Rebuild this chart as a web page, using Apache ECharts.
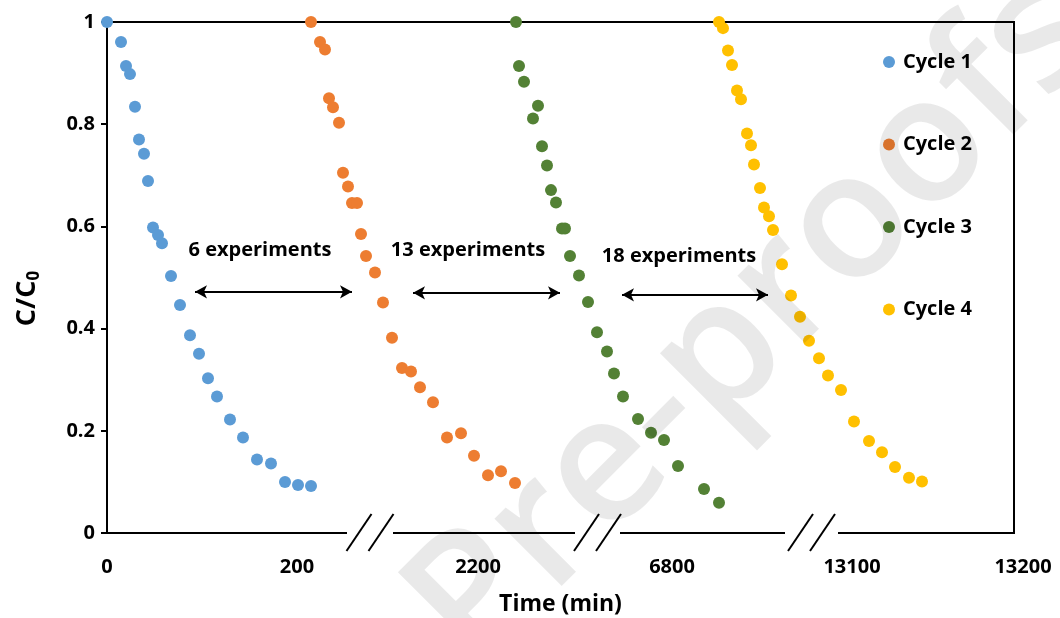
<!DOCTYPE html>
<html>
<head>
<meta charset="utf-8">
<script src="https://cdn.jsdelivr.net/npm/echarts@6/dist/echarts.min.js"></script>
<style>
html,body{margin:0;padding:0;background:#fff;}
#chart{width:1060px;height:618px;}
</style>
</head>
<body>
<div id="chart"></div>
<script>
// Broken time axis: x values are positions along the drawn (segmented) axis.
const seriesNames = ['Cycle 1', 'Cycle 2', 'Cycle 3', 'Cycle 4'];
const seriesColors = ['#5B9BD5', '#ED7D31', '#538135', '#FFC000'];

const cycle1X = [0,14,19,23,28,32,37,41,46,51,55,64,73,83,92,101,110,123,136,150,164,178,191,204];
const cycle1Y = [1.0,0.961,0.914,0.898,0.834,0.770,0.742,0.689,0.598,0.583,0.567,0.503,0.446,0.387,0.351,0.303,0.267,0.222,0.187,0.144,0.136,0.100,0.094,0.092];

const cycle2X = [204,213,218,222,226,232,236,241,245,250,254,259,268,276,285,295,304,313,326,340,354,367,381,394,408];
const cycle2Y = [1.0,0.961,0.946,0.851,0.833,0.803,0.705,0.678,0.646,0.646,0.585,0.542,0.510,0.451,0.382,0.323,0.316,0.285,0.256,0.187,0.195,0.151,0.113,0.121,0.098];

const cycle3X = [409,412,417,431,426,435,440,444,449,455,458,463,472,481,490,500,507,516,531,544,557,571,597,612];
const cycle3Y = [1.0,0.914,0.883,0.836,0.811,0.757,0.719,0.671,0.647,0.596,0.596,0.542,0.504,0.452,0.393,0.355,0.312,0.267,0.223,0.196,0.182,0.131,0.086,0.059];

const cycle4X = [612,616,621,625,630,634,640,644,647,653,657,662,666,675,684,693,702,712,721,734,747,762,775,788,802,815];
const cycle4Y = [1.0,0.988,0.944,0.916,0.866,0.849,0.782,0.759,0.721,0.675,0.637,0.620,0.593,0.526,0.465,0.423,0.376,0.342,0.308,0.280,0.218,0.180,0.158,0.129,0.108,0.101];

const xTickPositions = [0, 190, 371, 565, 745, 907];
const xTickLabels = ['0', '200', '2200', '6800', '13100', '13200'];

const arrowStarts = [88, 306, 515];
const arrowEnds = [245, 453, 661];
const arrowY = [0.472, 0.470, 0.466];
const noteTexts = ['6 experiments', '13 experiments', '18 experiments'];
const noteX = [153, 361, 572];
const noteY = [0.554, 0.554, 0.542];

const breakGaps = [[240, 286], [468, 513], [678, 731]];

const FONT = '"Open Sans", "Liberation Sans", sans-serif';
const allX = [cycle1X, cycle2X, cycle3X, cycle4X];
const allY = [cycle1Y, cycle2Y, cycle3Y, cycle4Y];

const chart = echarts.init(document.getElementById('chart'), null, {renderer: 'canvas'});

const series = seriesNames.map((name, i) => {
  const s = {
    name: name,
    type: 'scatter',
    symbol: 'circle',
    symbolSize: 12,
    itemStyle: {color: seriesColors[i], opacity: 1},
    data: allX[i].map((x, j) => [x, allY[i][j]]),
    z: 3
  };
  if (i === 0) {
    s.markLine = {
      silent: true,
      symbol: ['arrow', 'arrow'],
      symbolSize: [10, 12],
      lineStyle: {color: '#000', width: 2, type: 'solid'},
      label: {show: false},
      data: arrowStarts.map((a, k) => [
        {coord: [a, arrowY[k]]},
        {coord: [arrowEnds[k], arrowY[k]]}
      ])
    };
    s.markPoint = {
      silent: true,
      symbol: 'circle',
      symbolSize: 0,
      label: {
        show: true, position: 'inside',
        color: '#000', fontFamily: FONT, fontWeight: 'bold', fontSize: 20,
        formatter: p => p.name
      },
      data: noteTexts.map((t, k) => ({name: t, coord: [noteX[k], noteY[k]]}))
    };
  }
  return s;
});

chart.setOption({
  animation: false,
  backgroundColor: '#fff',
  grid: {
    left: 107, top: 22, right: 46, bottom: 85,
    outerBoundsMode: 'none', containLabel: false,
    show: true, borderColor: '#000', borderWidth: 2, backgroundColor: 'transparent'
  },
  legend: {
    orient: 'vertical',
    left: 878, top: 45,
    itemWidth: 12, itemHeight: 12,
    itemGap: 58.5,
    icon: 'circle',
    data: seriesNames,
    textStyle: {color: '#000', fontFamily: FONT, fontWeight: 'bold', fontSize: 20, lineHeight: 24, padding: [0, 0, 0, 3]}
  },
  xAxis: {
    type: 'value',
    min: 0, max: 907,
    splitLine: {show: false},
    axisLine: {show: true, lineStyle: {color: '#000', width: 2}},
    axisTick: {show: false},
    axisLabel: {
      customValues: xTickPositions,
      margin: 24,
      color: '#000', fontFamily: FONT, fontWeight: 'bold', fontSize: 20,
      formatter: function (v) {
        const i = xTickPositions.indexOf(v);
        if (i < 0) return '';
        if (i === xTickPositions.length - 1) return '{r|' + xTickLabels[i] + '}';
        return xTickLabels[i];
      },
      rich: {
        r: {color: '#000', fontFamily: FONT, fontWeight: 'bold', fontSize: 20, padding: [0, 0, 0, 18]}
      }
    },
    name: 'Time (min)',
    nameLocation: 'middle',
    nameGap: 60,
    nameTextStyle: {color: '#000', fontFamily: FONT, fontWeight: 'bold', fontSize: 23}
  },
  yAxis: {
    type: 'value',
    min: 0, max: 1, interval: 0.2,
    splitLine: {show: false},
    axisLine: {show: true, lineStyle: {color: '#000', width: 2}},
    axisTick: {show: true, inside: false, length: 6, lineStyle: {color: '#000', width: 2}},
    axisLabel: {
      margin: 12,
      color: '#000', fontFamily: FONT, fontWeight: 'bold', fontSize: 20,
      formatter: v => String(Math.round(v * 10) / 10)
    },
    name: 'C/C{s|0}',
    nameLocation: 'middle',
    nameRotate: 90,
    nameGap: 64,
    nameTextStyle: {
      color: '#000', fontFamily: FONT, fontWeight: 'bold', fontSize: 27,
      padding: [0, 42, 0, 0],
      rich: {
        s: {color: '#000', fontFamily: FONT, fontWeight: 'bold', fontSize: 17, padding: [14, 0, 0, 0]}
      }
    }
  },
  series: series
});

// decorative axis-break marks and watermark
function drawExtras() {
  const els = [];
  breakGaps.forEach(g => {
    const p0 = chart.convertToPixel({gridIndex: 0}, [g[0], 0]);
    const p1 = chart.convertToPixel({gridIndex: 0}, [g[1], 0]);
    const cx = (p0[0] + p1[0]) / 2;
    const cy = p0[1];
    els.push({
      type: 'rect', silent: true, z: 100,
      shape: {x: p0[0], y: cy - 5, width: p1[0] - p0[0], height: 10},
      style: {fill: '#fff'}
    });
    [-11, 11].forEach(off => {
      els.push({
        type: 'line', silent: true, z: 101,
        shape: {x1: cx + off - 12.5, y1: cy + 18, x2: cx + off + 12.5, y2: cy - 19},
        style: {stroke: '#000', lineWidth: 2}
      });
    });
  });
  els.push({
    type: 'text', silent: true, z: 200,
    x: 755, y: 322, rotation: Math.PI / 4,
    style: {
      text: 'Pre-proofs', fill: 'rgba(0,0,0,0.085)',
      font: '600 176px "Open Sans", sans-serif',
      align: 'center', verticalAlign: 'middle'
    }
  });
  chart.setOption({graphic: {elements: els}});
}
drawExtras();
</script>
</body>
</html>
